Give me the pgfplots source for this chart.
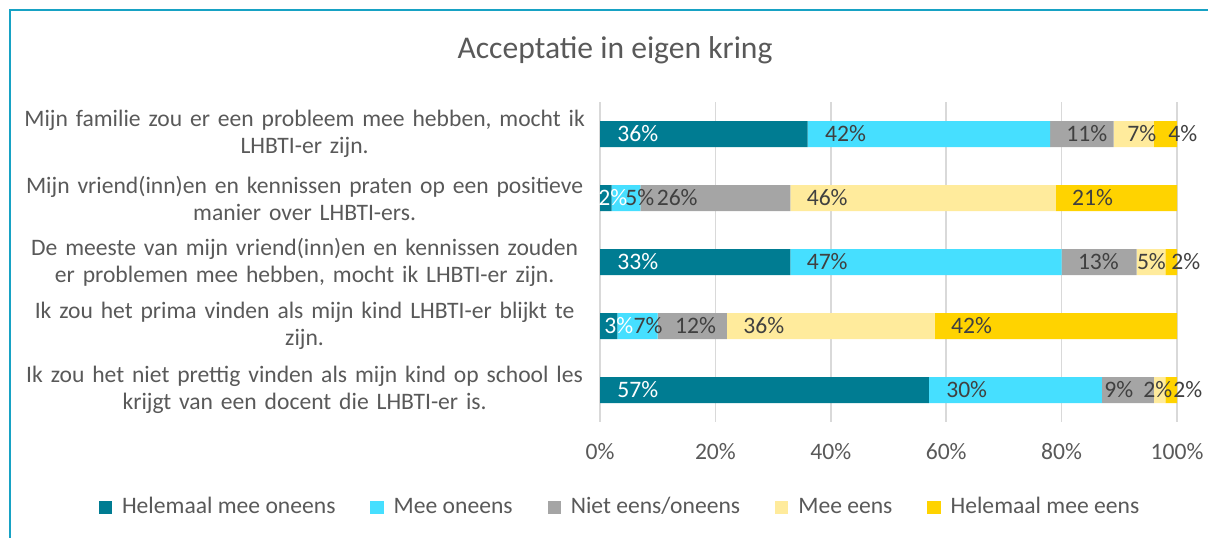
\documentclass[border=0pt]{standalone}
\usepackage{fontspec}
\setmainfont{Carlito}
\usepackage{pgfplots}
\pgfplotsset{compat=1.18}
\usepackage{pgfplotstable}

\definecolor{c1}{HTML}{007C92}
\definecolor{c2}{HTML}{46DFFF}
\definecolor{c3}{HTML}{A5A5A5}
\definecolor{c4}{HTML}{FFEB9C}
\definecolor{c5}{HTML}{FFD300}
\definecolor{txt}{HTML}{595959}
\definecolor{lbl}{HTML}{404040}
\definecolor{gridc}{HTML}{D9D9D9}
\definecolor{frame}{HTML}{17A2C4}

\newcommand\lab{\fontsize{11.8bp}{13.5bp}\selectfont}

% values per statement (a..e) and label indent from segment start in bp (da..de)
\pgfplotstableread{
cat a  b  c  d  e  da  db   dc  dd   de
1   36 42 11 7  4  8.5 8.5  8   6.75 7
2   2  5  26 46 21 -1  6.75 8   8    8
3   33 47 13 5  2  8.5 8    8   0    2.75
4   3  7  12 36 42 2   8    8.5 8    8
5   57 30 9  2  2  8.5 8.5  1   -5.5 3.75
}\acc

\pgfplotsset{
  /pgf/number format/assume math mode=true,
  geom/.style={
    scale only axis, width=288.5bp, height=160bp,
    at={(300bp,58bp)}, anchor=south west,
    xmin=0, xmax=100, ymin=0.5, ymax=5.5, y dir=reverse,
  },
  sq/.style={legend image code/.code={\fill[##1] (0bp,-3.3bp) rectangle (6.6bp,3.3bp);}},
  lab/.style 2 args={
    draw=none, mark=none,
    visualization depends on={\thisrow{#1}\as\dx},
    every node near coord/.append style={text=#2},
  },
}

\begin{document}
\begin{tikzpicture}
\useasboundingbox (0,0) rectangle (604bp,269bp);
\draw[frame, line width=1bp] (5bp,0) -- (5bp,264bp) -- (604bp,264bp);
\node[font=\fontsize{15.8bp}{19bp}\selectfont, text=txt] at (307.5bp,244bp) {Acceptatie in eigen kring};

\begin{axis}[geom, xbar stacked, bar width=13bp,
  axis line style={draw=none}, major tick length=0pt,
  xmajorgrids, grid style={draw=gridc, line width=0.75bp},
  xtick={0,20,...,100}, xticklabel={\pgfmathprintnumber{\tick}\%},
  xticklabel style={anchor=center, yshift=-15bp, font=\lab, text=txt},
  ytick={1,...,5},
  yticklabels={
    {Mijn familie zou er een probleem mee hebben, mocht ik\\LHBTI-er zijn.},
    {Mijn vriend(inn)en en kennissen praten op een positieve\\manier over LHBTI-ers.},
    {De meeste van mijn vriend(inn)en en kennissen zouden\\er problemen mee hebben, mocht ik LHBTI-er zijn.},
    {Ik zou het prima vinden als mijn kind LHBTI-er blijkt te\\zijn.},
    {Ik zou het niet prettig vinden als mijn kind op school les\\krijgt van een docent die LHBTI-er is.}},
  yticklabel style={anchor=east, align=center, text width=300bp, inner sep=0pt, xshift=2.5bp, font=\lab, text=txt},
  legend columns=5,
  legend style={at={(0.033,-0.266)}, anchor=center, draw=none, font=\lab, text=txt,
    inner sep=0pt, nodes={inner sep=0pt}, cells={anchor=west},
    /tikz/every even column/.append style={column sep=17.5bp},
    /tikz/every odd column/.append style={column sep=5bp}},
]
\addplot[fill=c1, draw=none, sq] table[x=a, y=cat]{\acc};
\addplot[fill=c2, draw=none, sq] table[x=b, y=cat]{\acc};
\addplot[fill=c3, draw=none, sq] table[x=c, y=cat]{\acc};
\addplot[fill=c4, draw=none, sq] table[x=d, y=cat]{\acc};
\addplot[fill=c5, draw=none, sq] table[x=e, y=cat]{\acc};
\legend{Helemaal mee oneens, Mee oneens, Niet eens/oneens, Mee eens, Helemaal mee eens}
\end{axis}

% second, invisible axis: data labels at the start of each segment, above all bars
\begin{axis}[geom, hide axis, clip=false,
  point meta=explicit,
  nodes near coords={\pgfmathprintnumber{\pgfplotspointmeta}\%},
  every node near coord/.append style={anchor=west, inner sep=0pt, font=\lab, xshift=\dx*1bp},
]
\addplot[lab={da}{white}] table[x expr=0, y=cat, meta=a]{\acc};
\addplot[lab={db}{lbl}] table[x=a, y=cat, meta=b]{\acc};
\addplot[lab={dc}{lbl}] table[x expr=\thisrow{a}+\thisrow{b}, y=cat, meta=c]{\acc};
\addplot[lab={dd}{lbl}] table[x expr=\thisrow{a}+\thisrow{b}+\thisrow{c}, y=cat, meta=d]{\acc};
\addplot[lab={de}{lbl}] table[x expr=\thisrow{a}+\thisrow{b}+\thisrow{c}+\thisrow{d}, y=cat, meta=e]{\acc};
\end{axis}
\end{tikzpicture}
\end{document}
